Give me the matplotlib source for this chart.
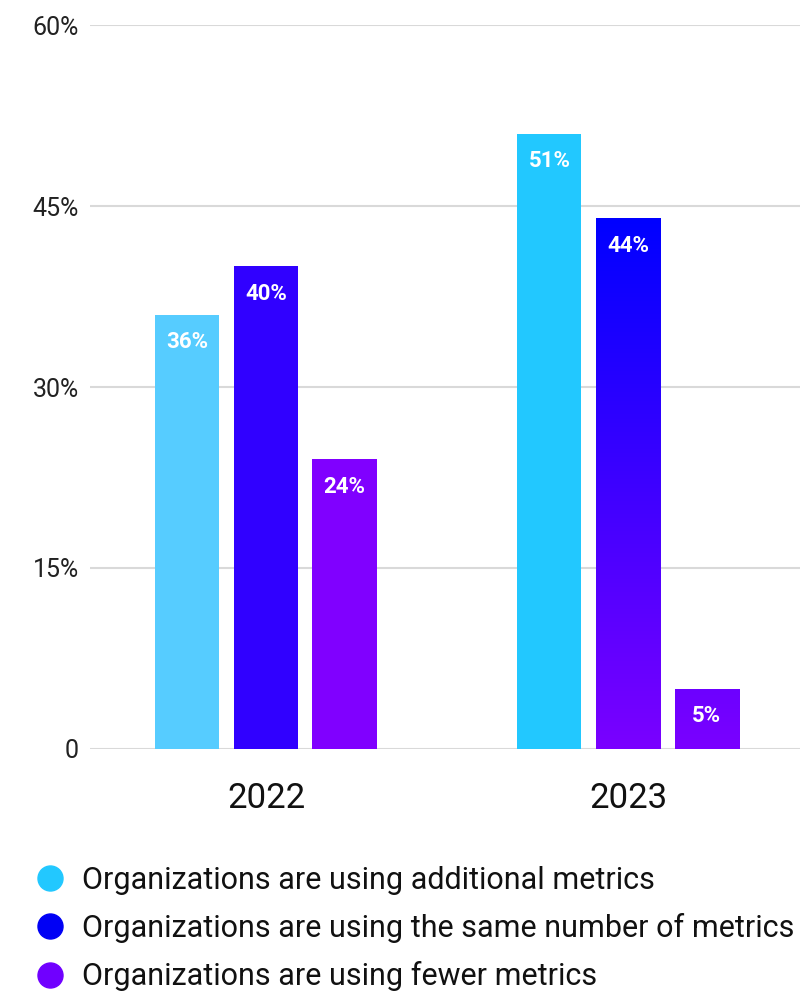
import numpy as np
import matplotlib.pyplot as plt
from matplotlib.colors import LinearSegmentedColormap, Normalize
from matplotlib.lines import Line2D

plt.rcParams['font.family'] = ['Roboto', 'DejaVu Sans']

years = ["2022", "2023"]
series = [
    "Organizations are using additional metrics",
    "Organizations are using the same number of metrics",
    "Organizations are using fewer metrics",
]
values_2022 = [36, 40, 24]
values_2023 = [51, 44, 5]

colors_2022 = ["#56CCFF", "#3000FF", "#8000FF"]
colors_2023 = ["#22C8FF", None, None]  # None -> gradient fill
legend_colors = ["#22C8FF", "#0000F5", "#7000FF"]
grad_cmap = LinearSegmentedColormap.from_list("blue_violet", ["#7A00FF", "#0000FF"])

yticks = [0, 15, 30, 45, 60]
ytick_labels = ["0", "15%", "30%", "45%", "60%"]

fig = plt.figure(figsize=(8, 9.94), dpi=100)
ax = fig.add_axes([0.1125, 0.2465, 0.8875, 0.7283])

bar_w = 0.177
offsets = [-0.217, 0.0, 0.217]
grad_norm = Normalize(vmin=0, vmax=max(values_2023[1:]))

for gi, (vals, cols) in enumerate([(values_2022, colors_2022), (values_2023, colors_2023)]):
    for si, (v, c) in enumerate(zip(vals, cols)):
        x = gi + offsets[si]
        if c is None:
            bar = ax.bar(x, v, width=bar_w, color="none", linewidth=0, zorder=3)[0]
            col = np.linspace(0, v, 256).reshape(-1, 1)
            im = ax.imshow(col, extent=[x - bar_w / 2, x + bar_w / 2, 0, v],
                           origin="lower", cmap=grad_cmap, norm=grad_norm,
                           aspect="auto", zorder=3)
            im.set_clip_path(bar)
        else:
            ax.bar(x, v, width=bar_w, color=c, linewidth=0, zorder=3)
        ax.annotate(f"{v}%", xy=(x, v), xytext=(0, -20), textcoords="offset points",
                    ha="center", va="center", color="white", fontsize=16,
                    fontweight="bold", zorder=4)

ax.set_xlim(-0.486, 1.475)
ax.set_ylim(0, 60)
ax.set_yticks(yticks)
ax.set_yticklabels(ytick_labels)
ax.set_xticks(range(len(years)))
ax.set_xticklabels(years)
ax.tick_params(axis="y", length=0, pad=8, labelsize=18, labelcolor="#222222")
ax.tick_params(axis="x", length=0, pad=24, labelsize=25, labelcolor="#111111")
ax.yaxis.grid(True, color="#d9d9d9", linewidth=1.5, zorder=0)
ax.set_axisbelow(True)
for s in ax.spines.values():
    s.set_visible(False)

handles = [Line2D([0], [0], marker="o", linestyle="none", markersize=18,
                  markerfacecolor=c, markeredgecolor=c) for c in legend_colors]
fig.legend(handles, series, loc="upper left", bbox_to_anchor=(0.044, 0.129),
           frameon=False, fontsize=22, labelspacing=0.6, handlelength=1.0,
           handletextpad=0.54, borderaxespad=0, borderpad=0, labelcolor="#111111")

fig.savefig("out.png", dpi=100)
